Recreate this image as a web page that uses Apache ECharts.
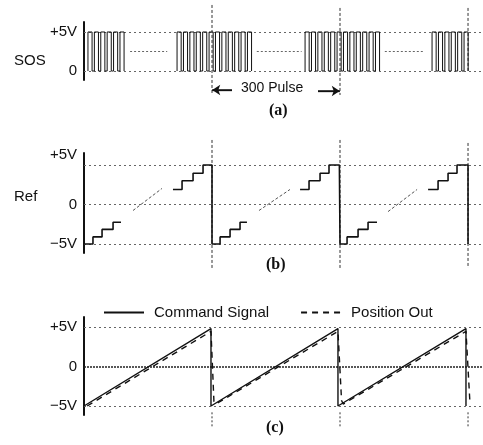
<!DOCTYPE html>
<html>
<head>
<meta charset="utf-8">
<script src="https://cdn.jsdelivr.net/npm/echarts@6/dist/echarts.min.js"></script>
<style>
html,body{margin:0;padding:0;background:#fff;}
#chart{width:483px;height:445px;}
</style>
</head>
<body>
<div id="chart"></div>
<script>
// ---------- data ----------
// x unit: one reference period (300 pulses) = 10 units
const sosBursts = [
  [0.31, 0.81, 1.31, 1.81, 2.31, 2.81],
  [7.27, 7.77, 8.27, 8.77, 9.27, 9.77, 10.27, 10.77, 11.27, 11.77, 12.27, 12.77],
  [17.27, 17.77, 18.27, 18.77, 19.27, 19.77, 20.27, 20.77, 21.27, 21.77, 22.27, 22.77],
  [27.19, 27.69, 28.19, 28.69, 29.19, 29.69]
];
const sosPulseWidth = 0.32;
const sosLevels = [0, 5];
const sosEllipsis = [[3.6, 6.5], [13.5, 17.0], [23.5, 26.6]];
const sosEllipsisLevel = 2.5;
const pulseArrows = [[[11.56, 0], [10.02, 0]], [[18.28, -0.17], [19.98, -0.17]]];

const refLowEdges = [[0, 0.70, 1.41, 2.27, 2.89], [10, 10.63, 11.41, 12.19, 12.73], [20, 20.55, 21.41, 22.19, 22.89]];
const refLowLevels = [-5, -4.1, -3.15, -2.25];
const refHighEdges = [[6.95, 7.66, 8.52, 9.30, 10], [16.88, 17.58, 18.44, 19.14, 19.95], [26.88, 27.66, 28.44, 29.14, 30]];
const refHighLevels = [1.9, 3.0, 3.95, 5];
const refFinalDrop = [30, -5];
const refRamps = [[[3.83, -0.76], [6.09, 2.03]], [[13.67, -0.76], [16.09, 1.9]], [[23.75, -0.9], [26.02, 1.9]]];

const commandSignal = [[0, -5], [9.92, 4.8], [9.92, -5], [19.84, 4.8], [19.84, -5], [29.84, 4.8], [29.84, -5]];
const positionOut = [[0.25, -5], [9.92, 4.45], [10.15, -4.4], [10.3, -4.75], [19.84, 4.45], [20.12, -4.3], [20.25, -4.75], [29.84, 4.45], [30.15, -4.6]];

const resetX = [10, 20, 30];
const yTicksA = [0, 5];
const yTicksBC = [-5, 0, 5];
const legendNames = ['Command Signal', 'Position Out'];

// ---------- build helpers ----------
function pulsePath() {
  const pts = [];
  sosBursts.forEach(b => {
    b.forEach(r => {
      pts.push([r, sosLevels[0]], [r, sosLevels[1]], [r + sosPulseWidth, sosLevels[1]], [r + sosPulseWidth, sosLevels[0]]);
    });
    pts.push(null);
  });
  return pts;
}
function steps(edges, levels) {
  const pts = [];
  for (let i = 0; i < levels.length; i++) {
    pts.push([edges[i], levels[i]], [edges[i + 1], levels[i]]);
  }
  return pts;
}
function refPath() {
  let pts = [];
  pts = pts.concat(steps(refLowEdges[0], refLowLevels));
  for (let k = 0; k < refHighEdges.length; k++) {
    pts.push(null);
    pts = pts.concat(steps(refHighEdges[k], refHighLevels));
    if (k + 1 < refLowEdges.length) pts = pts.concat(steps(refLowEdges[k + 1], refLowLevels));
  }
  pts.push(refFinalDrop);
  return pts;
}
function segs(list) {
  const pts = [];
  list.forEach(r => { pts.push(r[0], r[1], null); });
  return pts;
}
function ellipsisPath() {
  const pts = [];
  sosEllipsis.forEach(s => { pts.push([s[0], sosEllipsisLevel], [s[1], sosEllipsisLevel], null); });
  return pts;
}
function vguides(ranges) {
  const pts = [];
  resetX.forEach((x, i) => { pts.push([x, ranges[i][0]], [x, ranges[i][1]], null); });
  return pts;
}

const FONT = "'Liberation Sans', Arial, sans-serif";
const gridStyle = { color: '#666', width: 1, type: [2, 3] };
function gridLines(vals, style) {
  return {
    silent: true, symbol: 'none', label: { show: false },
    lineStyle: style || gridStyle, emphasis: { disabled: true },
    data: vals.map(v => ({ yAxis: v }))
  };
}
function yAxis(idx, min, max, ticks, fmt) {
  return {
    type: 'value', gridIndex: idx, min: min, max: max,
    axisLine: { show: true, lineStyle: { color: '#111', width: 2 } },
    axisTick: { show: false }, splitLine: { show: false },
    axisLabel: {
      customValues: ticks, margin: 7, color: '#111', fontSize: 15, fontFamily: FONT,
      formatter: fmt,
      rich: { up: { fontSize: 15, fontFamily: FONT, color: '#111', padding: [0, 0, 20, 0] } }
    }
  };
}
const fmtStd = v => v > 0 ? '+5V' : (v < 0 ? '\u22125V' : '0');
const fmtB = v => v > 0 ? '{up|+5V}' : (v < 0 ? '\u22125V' : '0');

const X_MAX = 31.17;
const xAx = i => ({ type: 'value', gridIndex: i, min: 0, max: X_MAX, show: false });

const chart = echarts.init(document.getElementById('chart'), null, { renderer: 'canvas' });
chart.setOption({
  animation: false,
  backgroundColor: '#fff',
  textStyle: { fontFamily: FONT },
  grid: [
    { left: 84, right: 0, top: 22, height: 58 },
    { left: 84, right: 0, top: 153, height: 100 },
    { left: 84, right: 0, top: 317, height: 98 },
    { left: 84, right: 0, top: 84, height: 12 }
  ],
  xAxis: [xAx(0), xAx(1), xAx(2), xAx(3)],
  yAxis: [
    yAxis(0, -1.15, 6.28, yTicksA, fmtStd),
    yAxis(1, -6.14, 6.52, yTicksBC, fmtB),
    yAxis(2, -6.14, 6.27, yTicksBC, fmtStd),
    { type: 'value', gridIndex: 3, min: -1, max: 1, show: false }
  ],
  legend: {
    data: legendNames, left: 103, top: 305, padding: 0,
    itemWidth: 40, itemHeight: 14, itemGap: 31, selectedMode: false,
    itemStyle: { color: 'rgba(0,0,0,0)', borderWidth: 0, opacity: 0 },
    textStyle: { fontSize: 15, fontFamily: FONT, color: '#111', padding: [0, 0, 12, 5] }
  },
  series: [
    { name: 'SOS', type: 'line', xAxisIndex: 0, yAxisIndex: 0, data: pulsePath(), symbol: 'none',
      lineStyle: { color: '#111', width: 1 }, itemStyle: { color: '#111' }, connectNulls: false, z: 5,
      markLine: gridLines(sosLevels) },
    { name: 'sosEllipsis', type: 'line', xAxisIndex: 0, yAxisIndex: 0, data: ellipsisPath(), symbol: 'none',
      lineStyle: { color: '#666', width: 1, type: [2, 2] } },
    { name: 'guideA', type: 'line', xAxisIndex: 0, yAxisIndex: 0, clip: false,
      data: vguides([[8.46, -3.07], [8.08, -3.07], [8.08, 0]]), symbol: 'none',
      lineStyle: { color: '#333', width: 1, type: [3, 2] } },
    { name: 'pulseArrow', type: 'line', xAxisIndex: 3, yAxisIndex: 3, data: segs(pulseArrows), symbol: 'none',
      lineStyle: { color: '#111', width: 1.3 },
      markLine: {
        silent: true, symbol: ['none', 'arrow'], symbolSize: 8, label: { show: false },
        lineStyle: { color: '#111', width: 1.3, type: 'solid' },
        data: pulseArrows.map(a => [{ coord: a[0] }, { coord: a[1] }])
      } },
    { name: 'Ref', type: 'line', xAxisIndex: 1, yAxisIndex: 1, data: refPath(), symbol: 'none',
      lineStyle: { color: '#111', width: 1.6 }, itemStyle: { color: '#111' }, z: 5,
      markLine: gridLines(yTicksBC) },
    { name: 'refRamp', type: 'line', xAxisIndex: 1, yAxisIndex: 1, data: segs(refRamps), symbol: 'none',
      lineStyle: { color: '#555', width: 1, type: [3, 2] } },
    { name: 'guideB', type: 'line', xAxisIndex: 1, yAxisIndex: 1, clip: false,
      data: vguides([[8.17, -8.04], [8.17, -8.04], [7.79, -8.04]]), symbol: 'none',
      lineStyle: { color: '#333', width: 1, type: [3, 2] } },
    { name: 'Command Signal', type: 'line', xAxisIndex: 2, yAxisIndex: 2, data: commandSignal, symbol: 'none',
      lineStyle: { color: '#111', width: 1.4 }, itemStyle: { color: '#111' }, z: 5,
      markLine: gridLines([-5, 5]) },
    { name: 'Position Out', type: 'line', xAxisIndex: 2, yAxisIndex: 2, data: positionOut, symbol: 'none',
      lineStyle: { color: '#111', width: 1.4, type: [6, 5] }, itemStyle: { color: '#111' }, z: 5,
      markLine: gridLines([0], { color: '#222', width: 1.6, type: [2, 1] }) },
    { name: 'guideC', type: 'line', xAxisIndex: 2, yAxisIndex: 2, clip: false,
      data: vguides([[-5.8, -7.7], [-5.8, -7.7], [-5.8, -7.7]]), symbol: 'none',
      lineStyle: { color: '#333', width: 1, type: [2, 2] } }
  ],
  graphic: [
    { type: 'text', left: 14, top: 53, style: { text: 'SOS', font: "15px " + FONT, fill: '#111' } },
    { type: 'text', left: 14, top: 189, style: { text: 'Ref', font: "15px " + FONT, fill: '#111' } },
    { type: 'text', left: 241, top: 81, style: { text: '300 Pulse', font: "14px " + FONT, fill: '#111' } },
    { type: 'text', left: 269, top: 103, style: { text: '(a)', font: "bold 16px 'Liberation Serif', serif", fill: '#111' } },
    { type: 'text', left: 266, top: 257, style: { text: '(b)', font: "bold 16px 'Liberation Serif', serif", fill: '#111' } },
    { type: 'text', left: 266, top: 420, style: { text: '(c)', font: "bold 16px 'Liberation Serif', serif", fill: '#111' } }
  ]
});
</script>
</body>
</html>
